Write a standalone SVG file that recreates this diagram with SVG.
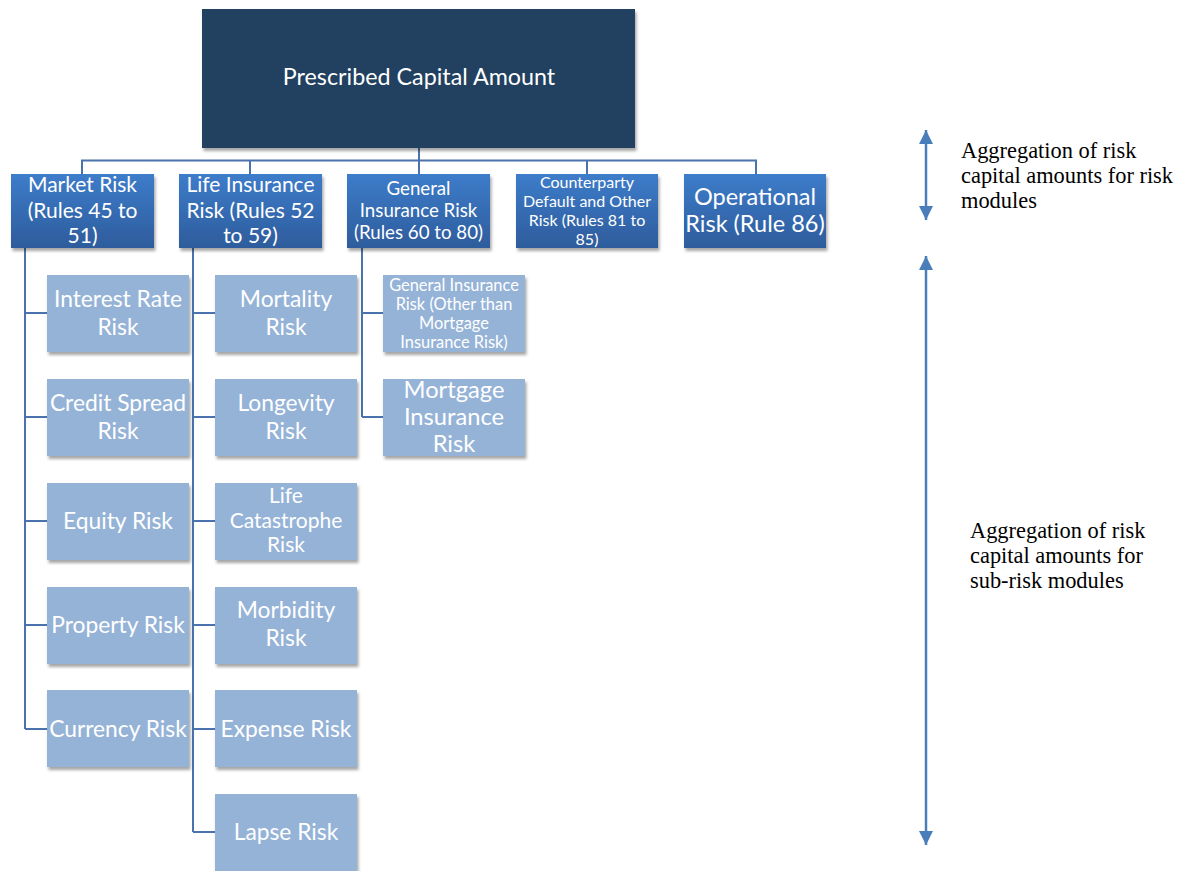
<svg xmlns="http://www.w3.org/2000/svg" width="1191" height="871" viewBox="0 0 1191 871">
<style>
.t{font-family:Lato,"Liberation Sans",sans-serif;fill:#fff;text-anchor:middle}
.s{font-family:"Liberation Serif",serif;fill:#000;font-size:22.4px}
.c{stroke:#4a73ad;stroke-width:2;fill:none}
.l2{fill:#95b3d7}
.l1{fill:url(#g1)}
</style>
<defs>
<linearGradient id="g1" x1="0" y1="0" x2="0" y2="1">
<stop offset="0" stop-color="#3d7cca"/>
<stop offset="1" stop-color="#2e5c9c"/>
</linearGradient>
<filter id="sh" x="-10%" y="-10%" width="130%" height="140%">
<feDropShadow dx="1.5" dy="3" stdDeviation="1.8" flood-color="#000" flood-opacity="0.35"/>
</filter>
<marker id="ah" viewBox="0 0 10 10" refX="10" refY="5" markerWidth="5.6" markerHeight="5.6" orient="auto-start-reverse" markerUnits="strokeWidth">
<path d="M0,0 L10,5 L0,10 Z" fill="#4a7ebb"/>
</marker>
</defs>

<g id="connectors">
<path class="c" d="M419,148 V174 M82,174 V160.5 H756 V174 M250,160.5 V174 M587,160.5 V174"/>
<path class="c" d="M25,248 V729 M25,313 H47 M25,417 H47 M25,521 H47 M25,625 H47 M25,729 H47"/>
<path class="c" d="M193,248 V832 M193,313 H215 M193,417 H215 M193,521 H215 M193,625 H215 M193,729 H215 M193,832 H215"/>
<path class="c" d="M362,248 V417 M362,313 H383 M362,417 H383"/>
<line x1="926" y1="130" x2="926" y2="220" stroke="#4a7ebb" stroke-width="2.5" marker-start="url(#ah)" marker-end="url(#ah)"/>
<line x1="926" y1="256" x2="926" y2="845" stroke="#4a7ebb" stroke-width="2.5" marker-start="url(#ah)" marker-end="url(#ah)"/>
</g>

<g id="n-top"><rect x="202" y="9" width="433" height="139" fill="#243f60" filter="url(#sh)"/><text class="t" x="419" y="85" font-size="23.3">Prescribed Capital Amount</text></g>

<g id="n-market"><rect class="l1" x="11" y="174" width="143" height="74" filter="url(#sh)"/><text class="t" font-size="21"><tspan x="82.5" y="192">Market Risk</tspan><tspan x="82.5" y="218">(Rules 45 to</tspan><tspan x="82.5" y="243">51)</tspan></text></g>
<g id="n-life"><rect class="l1" x="179" y="174" width="143" height="74" filter="url(#sh)"/><text class="t" font-size="21"><tspan x="250.5" y="192">Life Insurance</tspan><tspan x="250.5" y="218">Risk (Rules 52</tspan><tspan x="250.5" y="243">to 59)</tspan></text></g>
<g id="n-general"><rect class="l1" x="347" y="174" width="143" height="74" filter="url(#sh)"/><text class="t" font-size="18.7"><tspan x="418.5" y="195">General</tspan><tspan x="418.5" y="217">Insurance Risk</tspan><tspan x="418.5" y="239">(Rules 60 to 80)</tspan></text></g>
<g id="n-counterparty"><rect class="l1" x="516" y="174" width="142" height="74" filter="url(#sh)"/><text class="t" font-size="16"><tspan x="587" y="188">Counterparty</tspan><tspan x="587" y="207">Default and Other</tspan><tspan x="587" y="226">Risk (Rules 81 to</tspan><tspan x="587" y="245">85)</tspan></text></g>
<g id="n-operational"><rect class="l1" x="684" y="174" width="142" height="74" filter="url(#sh)"/><text class="t" font-size="23.5"><tspan x="755" y="205">Operational</tspan><tspan x="755" y="232">Risk (Rule 86)</tspan></text></g>

<g id="n-interest"><rect class="l2" x="47" y="275" width="142" height="77" filter="url(#sh)"/><text class="t" font-size="22.8"><tspan x="118" y="307">Interest Rate</tspan><tspan x="118" y="335">Risk</tspan></text></g>
<g id="n-credit"><rect class="l2" x="47" y="379" width="142" height="77" filter="url(#sh)"/><text class="t" font-size="22.8"><tspan x="118" y="411">Credit Spread</tspan><tspan x="118" y="439">Risk</tspan></text></g>
<g id="n-equity"><rect class="l2" x="47" y="483" width="142" height="77" filter="url(#sh)"/><text class="t" font-size="22.8" x="118" y="529">Equity Risk</text></g>
<g id="n-property"><rect class="l2" x="47" y="587" width="142" height="77" filter="url(#sh)"/><text class="t" font-size="22.8" x="118" y="633">Property Risk</text></g>
<g id="n-currency"><rect class="l2" x="47" y="690" width="142" height="77" filter="url(#sh)"/><text class="t" font-size="22.8" x="118" y="737">Currency Risk</text></g>

<g id="n-mortality"><rect class="l2" x="215" y="275" width="142" height="77" filter="url(#sh)"/><text class="t" font-size="22.8"><tspan x="286" y="307">Mortality</tspan><tspan x="286" y="335">Risk</tspan></text></g>
<g id="n-longevity"><rect class="l2" x="215" y="379" width="142" height="77" filter="url(#sh)"/><text class="t" font-size="22.8"><tspan x="286" y="411">Longevity</tspan><tspan x="286" y="439">Risk</tspan></text></g>
<g id="n-catastrophe"><rect class="l2" x="215" y="483" width="142" height="77" filter="url(#sh)"/><text class="t" font-size="21"><tspan x="286" y="503">Life</tspan><tspan x="286" y="528">Catastrophe</tspan><tspan x="286" y="552">Risk</tspan></text></g>
<g id="n-morbidity"><rect class="l2" x="215" y="587" width="142" height="77" filter="url(#sh)"/><text class="t" font-size="22.8"><tspan x="286" y="618">Morbidity</tspan><tspan x="286" y="646">Risk</tspan></text></g>
<g id="n-expense"><rect class="l2" x="215" y="690" width="142" height="77" filter="url(#sh)"/><text class="t" font-size="22.8" x="286" y="737">Expense Risk</text></g>
<g id="n-lapse"><rect class="l2" x="215" y="794" width="142" height="77" filter="url(#sh)"/><text class="t" font-size="22.8" x="286" y="840">Lapse Risk</text></g>

<g id="n-gi-other"><rect class="l2" x="383" y="275" width="142" height="77" filter="url(#sh)"/><text class="t" font-size="16.4"><tspan x="454" y="291">General Insurance</tspan><tspan x="454" y="310">Risk (Other than</tspan><tspan x="454" y="329">Mortgage</tspan><tspan x="454" y="348">Insurance Risk)</tspan></text></g>
<g id="n-mortgage"><rect class="l2" x="383" y="379" width="142" height="77" filter="url(#sh)"/><text class="t" font-size="23.7"><tspan x="454" y="398">Mortgage</tspan><tspan x="454" y="425">Insurance</tspan><tspan x="454" y="452">Risk</tspan></text></g>

<g id="label-risk"><text class="s"><tspan x="961" y="158">Aggregation of risk</tspan><tspan x="961" y="183">capital amounts for risk</tspan><tspan x="961" y="208">modules</tspan></text></g>
<g id="label-subrisk"><text class="s"><tspan x="970" y="538">Aggregation of risk</tspan><tspan x="970" y="563">capital amounts for</tspan><tspan x="970" y="588">sub-risk modules</tspan></text></g>
</svg>
